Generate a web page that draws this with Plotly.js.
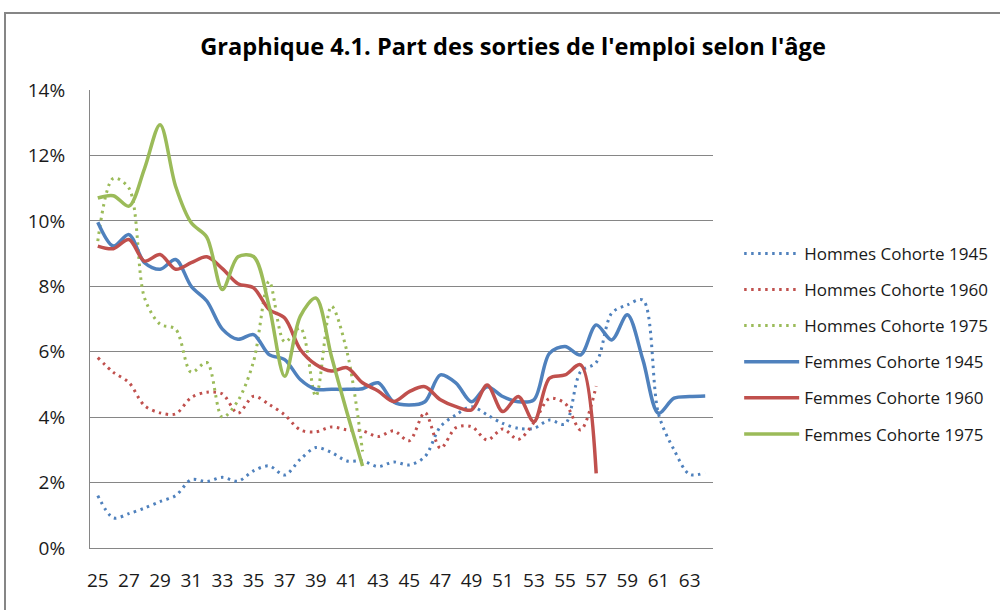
<!DOCTYPE html>
<html>
<head>
<meta charset="utf-8">
<script src="https://cdn.plot.ly/plotly-3.0.1.min.js"></script>
<style>
  html, body { margin: 0; padding: 0; background: #ffffff; }
  #chart { width: 1000px; height: 610px; }
</style>
</head>
<body>
<div id="chart"></div>
<script>
// Ages (categories)
const ages = [25,26,27,28,29,30,31,32,33,34,35,36,37,38,39,40,41,42,43,44,
              45,46,47,48,49,50,51,52,53,54,55,56,57,58,59,60,61,62,63,64];

// Values in percent
const hommes1945 = [1.6,0.92,1.05,1.22,1.42,1.6,2.09,2.03,2.16,2.04,
                    2.36,2.51,2.23,2.71,3.07,2.92,2.66,2.66,2.49,2.63,
                    2.54,2.79,3.71,4.07,4.32,4.07,3.81,3.66,3.66,3.91,
                    3.79,5.39,5.67,7.18,7.43,7.58,4.1,3.0,2.25,2.3];
const hommes1960 = [5.82,5.37,5.06,4.35,4.13,4.1,4.6,4.76,4.71,4.12,
                    4.64,4.39,4.07,3.61,3.55,3.7,3.61,3.58,3.41,3.58,
                    3.28,4.14,3.05,3.68,3.71,3.3,3.64,3.32,3.83,4.57,
                    4.42,3.61,4.95,null,null,null,null,null,null,null];
const hommes1975 = [9.38,11.3,11.0,7.65,6.84,6.69,5.37,5.67,4.0,4.5,
                    5.7,8.15,6.3,6.73,4.64,7.39,6.0,2.95,null,null,
                    null,null,null,null,null,null,null,null,null,null,
                    null,null,null,null,null,null,null,null,null,null];
const femmes1945 = [9.96,9.23,9.58,8.72,8.52,8.82,8.0,7.55,6.69,6.38,
                    6.52,5.91,5.76,5.15,4.85,4.85,4.85,4.87,5.05,4.46,
                    4.37,4.47,5.29,5.04,4.47,4.93,4.63,4.47,4.53,5.95,
                    6.16,5.9,6.82,6.36,7.13,5.75,4.12,4.58,4.63,4.65];
const femmes1960 = [9.23,9.15,9.43,8.77,8.97,8.52,8.72,8.9,8.54,8.08,
                    7.95,7.29,7.03,6.07,5.61,5.41,5.51,5.05,4.8,4.48,
                    4.78,4.93,4.53,4.32,4.22,4.98,4.17,4.63,3.86,5.19,
                    5.29,5.6,2.28,null,null,null,null,null,null,null];
const femmes1975 = [10.7,10.77,10.45,11.6,12.94,11.05,9.94,9.5,7.9,8.9,
                    8.91,7.39,5.25,7.08,7.64,5.86,4.14,2.51,null,null,
                    null,null,null,null,null,null,null,null,null,null,
                    null,null,null,null,null,null,null,null,null,null];

const seriesNames = ["Hommes Cohorte 1945","Hommes Cohorte 1960","Hommes Cohorte 1975",
                     "Femmes Cohorte 1945","Femmes Cohorte 1960","Femmes Cohorte 1975"];
const seriesData = [hommes1945, hommes1960, hommes1975, femmes1945, femmes1960, femmes1975];
const seriesColors = ["#4F81BD","#C0504D","#9BBB59","#4F81BD","#C0504D","#9BBB59"];
const seriesDotted = [true,true,true,false,false,false];

const FONT = '"Open Sans", Lato, sans-serif';

const traces = seriesData.map((d, i) => ({
  type: 'scatter',
  mode: 'lines',
  x: ages,
  y: d,
  name: seriesNames[i],
  legendgroup: 'g' + i,
  connectgaps: false,
  line: {
    color: seriesColors[i],
    width: seriesDotted[i] ? 3 : 3.5,
    dash: seriesDotted[i] ? '2.5px,4.5px' : 'solid',
    shape: 'spline',
    smoothing: 0.9
  },
  hoverinfo: 'x+y+name'
}));

const layout = {
  width: 1000,
  height: 610,
  paper_bgcolor: '#ffffff',
  plot_bgcolor: '#ffffff',
  margin: {l: 90, r: 287, t: 90, b: 62, pad: 0, autoexpand: false},
  font: {family: FONT, size: 15, color: '#000000'},
  title: {
    text: "<b>Graphique 4.1. Part des sorties de l'emploi selon l'âge</b>",
    font: {family: FONT, size: 23.6, color: '#000000'},
    x: 0.513, xanchor: 'center',
    y: 0.923, yanchor: 'middle'
  },
  xaxis: {
    type: 'linear',
    range: [24.5, 64.5],
    tick0: 25, dtick: 2,
    showgrid: false,
    zeroline: false,
    showline: true, linecolor: '#868686', linewidth: 1,
    ticks: '',
    ticklabelstandoff: 15,
    tickfont: {family: FONT, size: 19, color: '#1a1a1a'},
    fixedrange: true
  },
  yaxis: {
    range: [0, 14],
    dtick: 2,
    ticksuffix: '%',
    showgrid: true, gridcolor: '#868686', gridwidth: 1,
    zeroline: false,
    showline: true, linecolor: '#868686', linewidth: 1,
    ticks: '',
    ticklabelstandoff: 20,
    tickfont: {family: FONT, size: 19, color: '#1a1a1a'},
    fixedrange: true
  },
  legend: {
    x: 1.042, xanchor: 'left',
    y: 0.6816, yanchor: 'top',
    font: {family: FONT, size: 17, color: '#1a1a1a'},
    tracegroupgap: 11,
    bgcolor: 'rgba(0,0,0,0)',
    itemwidth: 55
  },
  shapes: [{
    type: 'rect', xref: 'paper', yref: 'paper',
    x0: (5 - 90) / 623, x1: (1010 - 90) / 623,
    y0: (548 - 620) / 458, y1: (548 - 13) / 458,
    line: {color: '#868686', width: 2},
    fillcolor: 'rgba(0,0,0,0)',
    layer: 'below'
  }],
  showlegend: true
};

Plotly.newPlot('chart', traces, layout, {displayModeBar: false, staticPlot: true});
</script>
</body>
</html>
